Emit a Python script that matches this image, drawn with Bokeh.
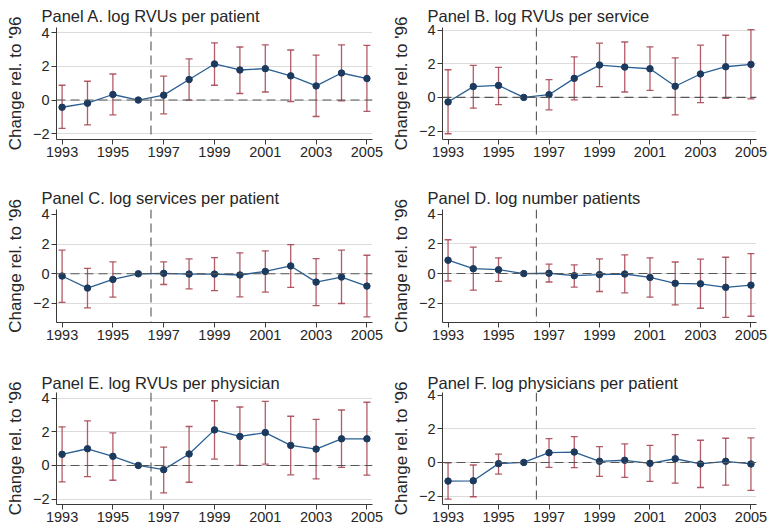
from bokeh.plotting import figure
from bokeh.layouts import column, row
from bokeh.models import (ColumnDataSource, Whisker, TeeHead, Span, FixedTicker,
                          Range1d)
from bokeh.embed import file_html
from bokeh.resources import INLINE
import math

# ---------------- data ----------------
years = [1993, 1994, 1995, 1996, 1997, 1998, 1999, 2000, 2001, 2002, 2003, 2004, 2005]
x_ticks = [1993, 1995, 1997, 1999, 2001, 2003, 2005]
y_ticks = [-2, 0, 2, 4]
y_label = "Change rel. to '96"
NA = float("nan")

titles = [
    "Panel A. log RVUs per patient",
    "Panel B. log RVUs per service",
    "Panel C. log services per patient",
    "Panel D. log number patients",
    "Panel E. log RVUs per physician",
    "Panel F. log physicians per patient",
]

a_est = [-0.43, -0.19, 0.33, 0.0, 0.29, 1.22, 2.15, 1.79, 1.87, 1.44, 0.84, 1.61, 1.28]
a_hi = [0.88, 1.12, 1.55, NA, 1.42, 2.45, 3.41, 3.16, 3.28, 2.98, 2.68, 3.28, 3.26]
a_lo = [-1.69, -1.48, -0.88, NA, -0.82, 0.00, 0.88, 0.39, 0.48, -0.09, -0.98, -0.05, -0.68]

b_est = [-0.27, 0.64, 0.71, 0.0, 0.16, 1.13, 1.92, 1.80, 1.70, 0.66, 1.39, 1.82, 1.96]
b_hi = [1.64, 1.90, 1.78, NA, 1.05, 2.41, 3.22, 3.29, 3.00, 2.35, 3.10, 3.69, 4.02]
b_lo = [-2.16, -0.64, -0.43, NA, -0.74, -0.15, 0.64, 0.32, 0.42, -1.04, -0.31, -0.05, -0.09]

c_est = [-0.15, -0.96, -0.38, 0.0, 0.03, -0.02, -0.02, -0.08, 0.16, 0.53, -0.56, -0.22, -0.83]
c_hi = [1.59, 0.37, 0.80, NA, 0.80, 1.00, 1.09, 1.41, 1.54, 1.97, 1.02, 1.59, 1.25]
c_lo = [-1.93, -2.30, -1.57, NA, -0.72, -1.01, -1.14, -1.55, -1.23, -0.92, -2.14, -2.00, -2.90]

d_est = [0.90, 0.33, 0.26, 0.0, 0.02, -0.14, -0.07, -0.03, -0.26, -0.66, -0.69, -0.93, -0.78]
d_hi = [2.28, 1.78, 1.06, NA, 0.63, 0.58, 0.99, 1.26, 1.06, 0.78, 0.97, 1.10, 1.35]
d_lo = [-0.50, -1.12, -0.53, NA, -0.57, -0.91, -1.21, -1.30, -1.59, -2.11, -2.34, -2.95, -2.88]

e_est = [0.66, 0.99, 0.54, 0.0, -0.25, 0.68, 2.11, 1.72, 1.95, 1.19, 0.97, 1.58, 1.58]
e_hi = [2.29, 2.64, 1.93, NA, 1.09, 2.31, 3.84, 3.47, 3.80, 2.92, 2.74, 3.29, 3.75]
e_lo = [-0.98, -0.66, -0.88, NA, -1.63, -1.00, 0.38, 0.00, 0.08, -0.56, -0.80, -0.11, -0.58]

f_est = [-1.11, -1.09, -0.07, 0.0, 0.58, 0.62, 0.07, 0.13, -0.05, 0.22, -0.09, 0.07, -0.09]
f_hi = [-0.03, -0.15, 0.50, NA, 1.42, 1.54, 0.94, 1.10, 1.02, 1.65, 1.32, 1.44, 1.46]
f_lo = [-2.18, -2.04, -0.69, NA, -0.29, -0.31, -0.83, -0.89, -1.13, -1.23, -1.49, -1.35, -1.66]

series = [(a_est, a_lo, a_hi), (b_est, b_lo, b_hi), (c_est, c_lo, c_hi),
          (d_est, d_lo, d_hi), (e_est, e_lo, e_hi), (f_est, f_lo, f_hi)]

# ---------------- styling / layout ----------------
y_ranges = [(-2.35, 4.32), (-2.5, 4.15), (-3.28, 4.33), (-3.3, 4.32), (-2.32, 4.33), (-2.5, 4.16)]
grid_ticks = [[-2, 0, 2, 4], [-2, 0, 2, 4], [-2, 0, 2], [-2, 0, 2], [-2, 0, 2, 4], [-2, 0, 2]]
x_range = (1992.78, 2005.22)
treat_x = 1996.5

FONT = "Liberation Sans"
TXT = "#262626"
AXC = "#3a3a3a"
LINE_C = "#2a5f93"
MARK_C = "#1c3a5e"
ERR_C = "#a3404c"
GRID_C = "#dcdcdc"

fig_w = 388
row_heights = [178, 177, 176]
tops = [27, 31, 37]
bottoms = [39, 33, 27]
title_standoff = [6, 5, 2]
lefts = [56, 52]
rights = [16, 20]


def make_panel(i):
    r, c = divmod(i, 2)
    est, lo, hi = series[i]
    p = figure(width=fig_w, height=row_heights[r], output_backend="svg",
               toolbar_location=None, x_range=Range1d(*x_range),
               y_range=Range1d(*y_ranges[i]),
               min_border_left=lefts[c], min_border_right=rights[c],
               min_border_top=tops[r], min_border_bottom=bottoms[r])
    p.outline_line_color = None
    p.background_fill_color = "white"
    p.border_fill_color = "white"

    p.title.text = titles[i]
    p.title.text_font = FONT
    p.title.text_font_size = "16.5px"
    p.title.text_font_style = "normal"
    p.title.text_color = TXT
    p.title.offset = -15
    p.title.standoff = title_standoff[r]

    p.xgrid.grid_line_color = None
    p.ygrid.ticker = FixedTicker(ticks=grid_ticks[i])
    p.ygrid.grid_line_color = GRID_C
    p.ygrid.grid_line_width = 1.2

    for ax in (p.xaxis[0], p.yaxis[0]):
        ax.axis_line_color = AXC
        ax.major_tick_line_color = AXC
        ax.minor_tick_line_color = None
        ax.major_tick_in = 0
        ax.major_tick_out = 5
        ax.major_label_text_font = FONT
        ax.major_label_text_font_size = "14.5px"
        ax.major_label_text_color = TXT
    p.xaxis.ticker = FixedTicker(ticks=x_ticks)
    p.xaxis.major_label_standoff = 2
    p.yaxis.ticker = FixedTicker(ticks=y_ticks)
    p.yaxis.major_label_overrides = {t: (str(t).replace("-", "\u2212")) for t in y_ticks}
    p.yaxis.major_label_standoff = 2
    p.yaxis.axis_label = y_label
    p.yaxis.axis_label_text_font = FONT
    p.yaxis.axis_label_text_font_size = "17px"
    p.yaxis.axis_label_text_font_style = "normal"
    p.yaxis.axis_label_text_color = TXT
    p.yaxis.axis_label_standoff = 5

    p.add_layout(Span(location=0, dimension="width", line_color="#555555",
                      line_dash="9 5", line_width=1.1))
    p.add_layout(Span(location=treat_x, dimension="height", line_color="#555555",
                      line_dash="9 5", line_width=1.1))

    ex, elo, ehi = [], [], []
    for yr, l, h in zip(years, lo, hi):
        if not (math.isnan(l) or math.isnan(h)):
            ex.append(yr)
            elo.append(l)
            ehi.append(h)
    src = ColumnDataSource(dict(x=ex, lower=elo, upper=ehi))
    w = Whisker(source=src, base="x", lower="lower", upper="upper",
                line_color=ERR_C, line_alpha=0.85, line_width=1.3,
                upper_head=TeeHead(size=7, line_color=ERR_C, line_alpha=0.85, line_width=1.3),
                lower_head=TeeHead(size=7, line_color=ERR_C, line_alpha=0.85, line_width=1.3))
    p.add_layout(w)

    p.line(years, est, line_color=LINE_C, line_width=1.3)
    p.scatter(years, est, size=6.5, fill_color=MARK_C, line_color=MARK_C)
    return p


panels = [make_panel(i) for i in range(6)]
layout = column(row(panels[0], panels[1]), row(panels[2], panels[3]), row(panels[4], panels[5]))

open("out.html", "w").write(file_html(layout, INLINE))
